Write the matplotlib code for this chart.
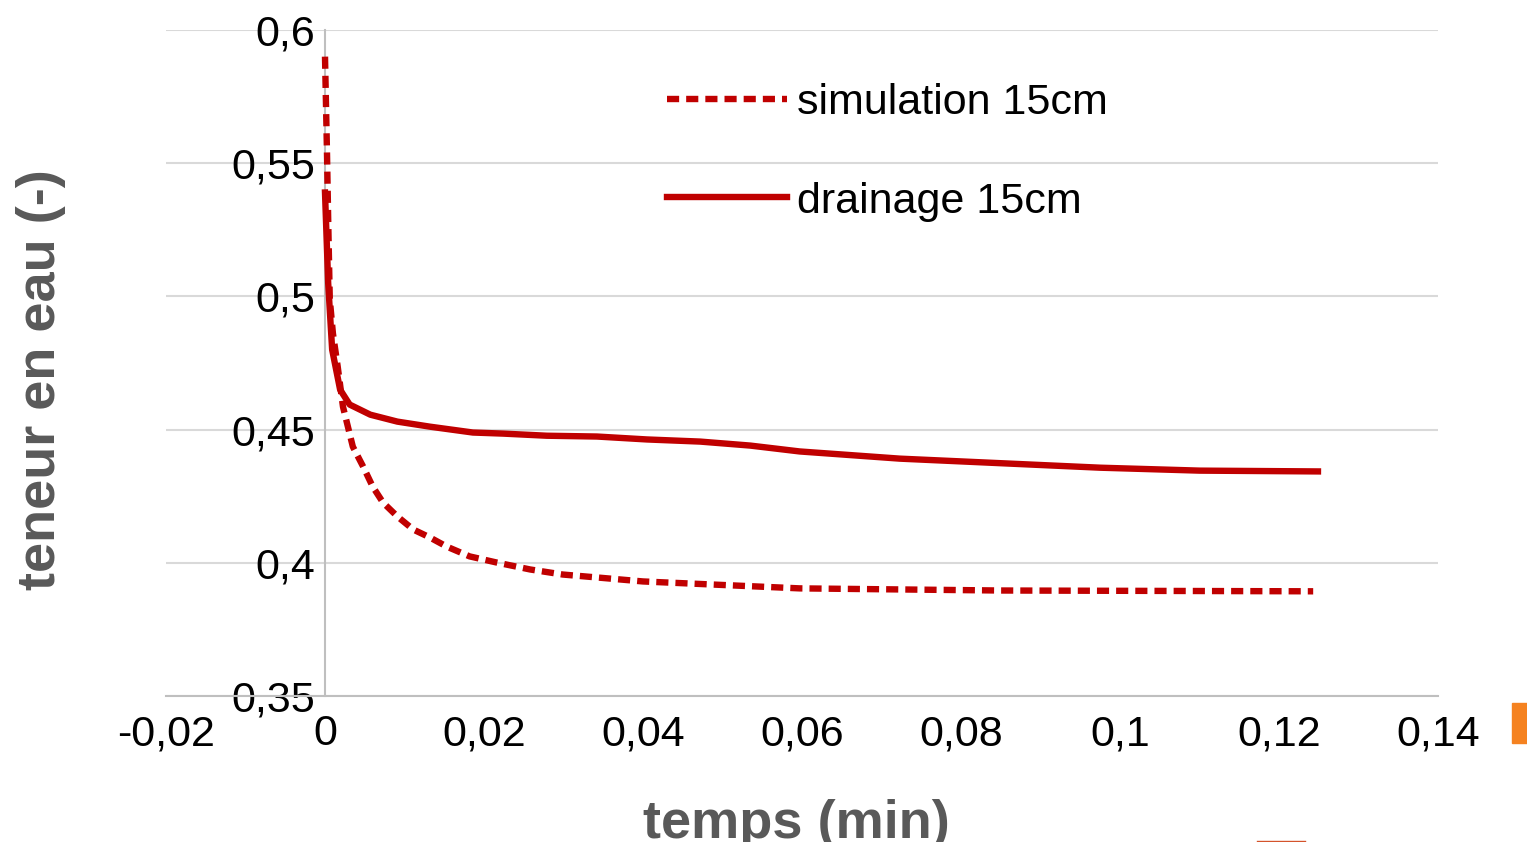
"""Teneur en eau vs temps: simulation vs drainage at 15 cm."""

import matplotlib
matplotlib.use("Agg")
import matplotlib.pyplot as plt
from matplotlib.lines import Line2D
from matplotlib.patches import Rectangle
from matplotlib.ticker import FuncFormatter

plt.rcParams["font.family"] = ["Liberation Sans", "DejaVu Sans"]

# data
sim_t = [0, 0.00025, 0.0004, 0.0006, 0.001, 0.0016, 0.00226, 0.0035, 0.0048,
         0.006, 0.0073, 0.0091, 0.0111, 0.0132, 0.0153, 0.0182, 0.0216, 0.0258,
         0.0299, 0.0342, 0.040, 0.0597, 0.0849, 0.1243]
sim_theta = [0.590, 0.554, 0.529, 0.499, 0.486, 0.4736, 0.4586, 0.4436, 0.4361,
             0.4286, 0.4226, 0.4174, 0.4125, 0.4095, 0.4061, 0.4024, 0.4001, 0.3975,
             0.3956, 0.3945, 0.393, 0.3904, 0.3896, 0.3893]

drain_t = [0, 0.0004, 0.0009, 0.0019, 0.0031, 0.0057, 0.0091, 0.0132, 0.0186,
           0.0224, 0.0279, 0.0342, 0.0405, 0.0472, 0.0535, 0.0597, 0.0723, 0.0849,
           0.0975, 0.110, 0.1249]
drain_theta = [0.539, 0.505, 0.480, 0.465, 0.4594, 0.4556, 0.453, 0.4511, 0.4489,
               0.4485, 0.4477, 0.4474, 0.4463, 0.4455, 0.444, 0.4418, 0.4391, 0.4374,
               0.4357, 0.4346, 0.4343]

x_ticks = [-0.02, 0, 0.02, 0.04, 0.06, 0.08, 0.1, 0.12, 0.14]
y_ticks = [0.35, 0.4, 0.45, 0.5, 0.55, 0.6]

RED = "#C00000"
GRID = "#D9D9D9"
AXIS = "#BFBFBF"
LABEL = "#595959"


def fr_fmt(v, _pos):
    s = f"{v:.2f}".rstrip("0").rstrip(".")
    if s in ("-0", ""):
        s = "0"
    return s.replace(".", ",")


fig = plt.figure(figsize=(15.27, 8.42), dpi=100)
ax = fig.add_axes([166 / 1527, 1 - 696 / 842, 1272 / 1527, 666 / 842])

ax.plot(sim_t, sim_theta, color=RED, lw=4.6, dashes=(1.9, 1.1),
        dash_capstyle="butt", label="simulation 15cm", zorder=3)
ax.plot(drain_t, drain_theta, color=RED, lw=4.6, label="drainage 15cm", zorder=3)

ax.set_xlim(-0.02, 0.14)
ax.set_ylim(0.35, 0.6)
ax.set_xticks(x_ticks)
ax.set_yticks(y_ticks)
ax.xaxis.set_major_formatter(FuncFormatter(fr_fmt))
ax.yaxis.set_major_formatter(FuncFormatter(fr_fmt))

ax.grid(axis="y", color=GRID, lw=1.5, zorder=0)
ax.set_axisbelow(True)
for side in ("top", "right"):
    ax.spines[side].set_visible(False)
ax.spines["left"].set_position(("data", 0))
ax.spines["left"].set_color(AXIS)
ax.spines["left"].set_linewidth(1.5)
ax.spines["bottom"].set_color(AXIS)
ax.spines["bottom"].set_linewidth(1.5)

ax.tick_params(axis="both", length=0, labelsize=31, labelcolor="black")
ax.tick_params(axis="x", pad=13)
ax.tick_params(axis="y", pad=7)

ax.set_xlabel("temps (min)", fontsize=39, fontweight="bold", color=LABEL)
ax.xaxis.label.set_va("baseline")
ax.xaxis.set_label_coords(0.496, -0.213)
ax.set_ylabel("teneur en eau (-)", fontsize=39, fontweight="bold", color=LABEL)
ax.yaxis.set_label_coords(-0.0786, 0.4745)

ax.legend(loc="upper left", bbox_to_anchor=((667 - 166) / 1272, (696 - 83) / 666),
          frameon=False, fontsize=31, handlelength=2.78, handletextpad=0.23,
          labelspacing=1.36, borderpad=0, borderaxespad=0)

# cropped bits at the edge of the original picture
fig.patches.append(Rectangle((1512 / 1527, 1 - 743 / 842), 15 / 1527, 40 / 842,
                             transform=fig.transFigure, color="#F58220"))
fig.lines.append(Line2D([1257 / 1527, 1305 / 1527], [1 - 840.5 / 842] * 2,
                        transform=fig.transFigure, color="#D4532B", lw=1))

fig.savefig("out.png", dpi=100)
